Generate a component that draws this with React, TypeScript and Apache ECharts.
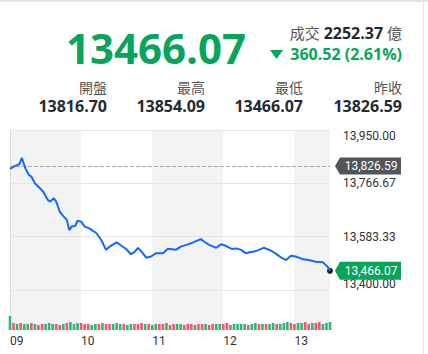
import React, { useEffect, useRef } from "react";
import * as echarts from "echarts";

// ---- Data ----
const lastPrice = 13466.07;
const changeText = "360.52 (2.61%)";
const turnover = "2252.37";
const statLabels = ["開盤", "最高", "最低", "昨收"];
const statValues = ["13816.70", "13854.09", "13466.07", "13826.59"];
const prevClose = 13826.59;

const yTicks = [13400, 13583.33, 13766.67, 13950];
const hourLabels = ["09", "10", "11", "12", "13"];

// minutes after 09:00
const priceMinutes = [0, 4, 8, 10, 13, 16, 18, 21, 24, 28, 32, 34, 37, 39, 42, 45, 48, 50, 52, 55, 57, 60, 63, 67, 69, 73, 77, 81, 84, 90, 94, 98, 102, 105, 108, 111, 115, 119, 123, 129, 133, 135, 140, 144, 149, 153, 157, 161, 164, 168, 174, 178, 182, 187, 191, 195, 199, 202, 206, 210, 214, 219, 224, 229, 233, 237, 241, 247, 252, 258, 264, 268, 270];
const priceValues = [13816.7, 13826, 13833, 13854.09, 13818, 13795, 13790, 13767, 13755, 13738, 13709, 13704, 13715, 13704, 13669, 13654, 13641, 13606, 13618, 13620, 13638, 13635, 13618, 13612, 13606, 13595, 13572, 13538, 13549, 13564, 13552, 13541, 13523, 13530, 13545, 13532, 13511, 13515, 13526, 13526, 13541, 13541, 13538, 13549, 13555, 13561, 13568, 13575, 13566, 13555, 13545, 13557, 13552, 13541, 13543, 13538, 13526, 13530, 13532, 13538, 13545, 13538, 13526, 13511, 13503, 13518, 13515, 13506, 13503, 13497, 13495, 13480, 13466.07];

// volume per 3-minute bucket (relative units)
const volumeValues = [14, 7, 6, 7, 6, 6, 7, 6, 5, 6, 6, 7, 6, 6, 5, 6, 7, 8, 6, 7, 7, 6, 6, 5, 6, 6, 7, 6, 6, 6, 7, 6, 6, 5, 6, 6, 6, 7, 6, 6, 5, 6, 6, 6, 7, 5, 6, 6, 6, 5, 6, 6, 5, 6, 6, 6, 5, 6, 6, 6, 6, 7, 5, 6, 6, 6, 6, 5, 6, 7, 6, 6, 6, 6, 7, 6, 6, 7, 8, 7, 6, 7, 7, 8, 6, 7, 7, 8, 6, 7, 8];
const volumeUp = "GRGRGGRGRRGGGRRGRGGGRRRGGRGRRGGGRGGRRRGRGGRRGRRGGRRRGRRGRRGGRRRGGGGRGGRGRGGRGGGRRGGRRGRRGG".split("");

const GREEN = "#08a45c";
const RED = "#f4566a";
const VGREEN = "#2fb673";
const FONT = "'Open Sans','Noto Sans CJK TC',sans-serif";
const AXFONT = "Roboto,'Noto Sans',sans-serif";

const fmt = (v: number) =>
  v.toLocaleString("en-US", { minimumFractionDigits: 2, maximumFractionDigits: 2 });

export default function App() {
  const ref = useRef<HTMLDivElement>(null);
  useEffect(() => {
    if (!ref.current) return;
    const chart = echarts.init(ref.current, null, { renderer: "svg" });
    const statX = [107, 205, 303, 402];
    const graphic: any[] = [
      { type: "rect", shape: { x: 0, y: 0, width: 428, height: 2 }, style: { fill: "#e4e4e6" } },
      { type: "rect", shape: { x: 423, y: 0, width: 1, height: 354 }, style: { fill: "#e4e4e6" } },
      {
        type: "text", x: 246, y: 47,
        style: { text: lastPrice.toFixed(2), fill: GREEN, font: `bold 42px ${FONT}`, textAlign: "right", textVerticalAlign: "middle" },
      },
      {
        type: "text", x: 402, y: 33,
        style: {
          text: `{a|成交 }{b|${turnover}}{a| 億}`, textAlign: "right", textVerticalAlign: "middle",
          rich: {
            a: { fontSize: 15, fill: "#555", fontFamily: FONT },
            b: { fontSize: 16, fontWeight: "bold", fill: "#232a31", fontFamily: FONT },
          },
        },
      },
      {
        type: "polygon", shape: { points: [[270, 50], [283, 50], [276.5, 59]] }, style: { fill: GREEN },
      },
      {
        type: "text", x: 402, y: 54,
        style: { text: changeText, fill: GREEN, font: `bold 16px ${FONT}`, textAlign: "right", textVerticalAlign: "middle" },
      },
    ];
    statLabels.forEach((l, i) => {
      graphic.push({
        type: "text", x: statX[i], y: 87,
        style: { text: l, fill: "#555", font: `14px ${FONT}`, textAlign: "right", textVerticalAlign: "middle" },
      });
      graphic.push({
        type: "text", x: statX[i], y: 106,
        style: { text: statValues[i], fill: "#232a31", font: `bold 16px ${FONT}`, textAlign: "right", textVerticalAlign: "middle" },
      });
    });

    const tagGray = "path://M0,8.5L5,0L66,0L66,17L5,17Z";
    chart.setOption({
      animation: false,
      graphic,
      grid: [
        { left: 10, top: 130, width: 320, height: 160 },
        { left: 10, top: 290, width: 320, height: 40 },
        { left: 10, top: 130, width: 320, height: 200 },
      ],
      xAxis: [
        { gridIndex: 0, type: "value", min: 0, max: 270, show: false },
        { gridIndex: 1, type: "value", min: 0, max: 270, show: false },
        {
          gridIndex: 2, type: "value", min: 0, max: 270, interval: 60, z: -1,
          axisLine: { show: false }, axisTick: { show: false }, splitLine: { show: false },
          splitArea: { show: true, areaStyle: { color: ["#f3f3f3", "#ffffff"] } },
          axisLabel: {
            align: "left", margin: 5, color: "#333", fontSize: 12, fontFamily: AXFONT,
            formatter: (v: number) => (v % 60 === 0 ? hourLabels[v / 60] ?? "" : ""),
          },
        },
      ],
      yAxis: [
        {
          gridIndex: 0, type: "value", position: "right", min: yTicks[0], max: yTicks[yTicks.length - 1],
          axisLine: { show: false }, axisTick: { show: false, customValues: yTicks },
          splitLine: { show: true, lineStyle: { color: "#e6e6e6" } },
          axisLabel: {
            customValues: yTicks, margin: 13, color: "#333", fontSize: 12, fontFamily: AXFONT,
            formatter: (v: number) => fmt(v),
            verticalAlignMinLabel: "bottom", verticalAlignMaxLabel: "top",
          },
        },
        { gridIndex: 1, type: "value", min: 0, max: 40, show: false },
        {
          gridIndex: 2, type: "value", position: "right", min: 0, max: 1,
          axisLine: { show: true, lineStyle: { color: "#d8dcda" } }, axisTick: { show: false },
          axisLabel: { show: false }, splitLine: { show: false },
        },
      ],
      series: [
        {
          type: "bar", xAxisIndex: 1, yAxisIndex: 1, barWidth: 2.6,
          data: volumeValues.map((v, i) => ({
            value: [i * 3, v],
            itemStyle: { color: volumeUp[i] === "R" ? RED : VGREEN },
          })),
        },
        {
          type: "line", xAxisIndex: 0, yAxisIndex: 0, showSymbol: false, clip: false,
          data: priceMinutes.map((m, i) => [m, priceValues[i]]),
          lineStyle: { color: "#1369ff", width: 2 },
          z: 5,
          markLine: {
            silent: true, symbol: "none", label: { show: false },
            lineStyle: { color: "#aaaaaa", type: "dashed", width: 1 },
            data: [{ yAxis: prevClose }],
          },
          markPoint: {
            silent: true,
            data: [
              {
                coord: [270, prevClose], symbol: tagGray, symbolSize: [66, 17], symbolOffset: [38, 0],
                itemStyle: { color: "#50565c" },
                label: { show: true, position: "inside", offset: [3, 0], formatter: fmt(prevClose), color: "#fff", fontSize: 12, fontFamily: AXFONT },
              },
              {
                coord: [270, lastPrice], symbol: tagGray, symbolSize: [66, 18], symbolOffset: [38, 0],
                itemStyle: { color: GREEN },
                label: { show: true, position: "inside", offset: [3, 0], formatter: fmt(lastPrice), color: "#fff", fontSize: 12, fontFamily: AXFONT },
              },
              {
                coord: [270, lastPrice], symbol: "circle", symbolSize: 6,
                itemStyle: { color: "#222" }, label: { show: false },
              },
            ],
          },
        },
      ],
    });
    return () => chart.dispose();
  }, []);
  return (
    <div
      ref={ref}
      style={{ position: "fixed", left: 0, top: 0, width: 428, height: 354, background: "#fff" }}
    />
  );
}
